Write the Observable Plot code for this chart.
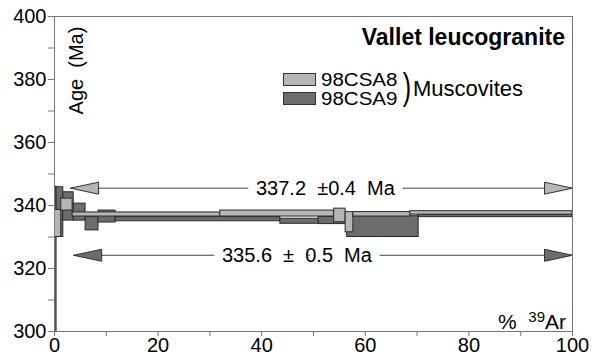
<!DOCTYPE html>
<html><head><meta charset="utf-8">
<script src="https://cdn.jsdelivr.net/npm/d3@7"></script>
<script src="https://cdn.jsdelivr.net/npm/@observablehq/plot@0.6"></script>
<style>
body{margin:0;background:#fff;}
#wrap{position:relative;width:596px;height:356px;font-family:"Liberation Sans",Arial,sans-serif;color:#000;}
.ov{position:absolute;white-space:nowrap;}
.sw{position:absolute;width:31px;height:11px;border:1px solid #333;}
</style></head><body><div id="wrap"></div>
<script>
// 98CSA8 (light grey): cumulative % 39Ar boundaries, step ages and half-errors (Ma)
const csa8Cum = [0, 1.3, 3.5, 32, 54, 56.2, 57.7, 68.7, 100];
const csa8Age = [334.3, 340.3, 337.15, 337.45, 336.85, 334.7, 337.2, 337.65];
const csa8Err = [4.3, 1.9, 0.65, 0.95, 2.15, 3.2, 0.7, 0.55];
// 98CSA9 (dark grey)
const csa9Cum = [0, 0.4, 1.7, 3.7, 6, 8.5, 11.8, 43.6, 51, 56.5, 70.3, 100];
const csa9Age = [310, 337.9, 339.7, 337.9, 334.2, 336.5, 335.65, 335.0, 335.25, 333.3, 336.7];
const csa9Err = [36, 7.9, 4.5, 2.7, 2.1, 1.9, 0.65, 0.8, 1.15, 3.3, 0.4];
// plateau annotations
const plateauLabels = ["337.2\u00a0\u00a0±0.4\u00a0\u00a0Ma", "335.6\u00a0\u00a0±\u00a0\u00a00.5\u00a0\u00a0Ma"];
const plateauArrowAge = [345.5, 324.2];
const plateauArrowFrom = [3.1, 3.7];
const plateauArrowTo = [100, 100];
const plateauLabelX = [52.3, 46.8];
const sampleNames = ["98CSA8", "98CSA9"];
const xTicks = [0, 10, 20, 30, 40, 50, 60, 70, 80, 90, 100];
const yTicks = [300, 310, 320, 330, 340, 350, 360, 370, 380, 390, 400];

const LIGHT = "#b6b6b6", DARK = "#6c6c6c";

function steps(cum, age, err, sample) {
  return age.map((a, i) => ({x1: cum[i], x2: cum[i + 1], y1: a - err[i], y2: a + err[i], sample}));
}
const light = steps(csa8Cum, csa8Age, csa8Err, sampleNames[0]);
const dark = steps(csa9Cum, csa9Age, csa9Err, sampleNames[1]);
const plateaus = plateauLabels.map((label, i) => ({
  label, age: plateauArrowAge[i], from: plateauArrowFrom[i], to: plateauArrowTo[i], lx: plateauLabelX[i],
  fill: i === 0 ? LIGHT : DARK
}));

const headLeft = {draw(ctx) { ctx.moveTo(0, 0); ctx.lineTo(28, -6); ctx.lineTo(28, 6); ctx.closePath(); }};
const headRight = {draw(ctx) { ctx.moveTo(0, 0); ctx.lineTo(-28, -6); ctx.lineTo(-28, 6); ctx.closePath(); }};

const chart = Plot.plot({
  width: 596, height: 356,
  marginLeft: 54, marginRight: 24, marginTop: 16, marginBottom: 25,
  style: {fontFamily: "'Liberation Sans', Arial, sans-serif", fontSize: "20px", background: "white", color: "#000", overflow: "visible"},
  x: {domain: [0, 100], label: null},
  y: {domain: [300, 400], label: null},
  marks: [
    Plot.axisX({ticks: xTicks, tickSize: 5, tickPadding: 1, tickFormat: d => d % 20 === 0 ? String(d) : "", stroke: "#777", fontSize: 20, label: null}),
    Plot.axisY({ticks: yTicks, tickSize: 6, tickPadding: 2, tickFormat: d => d % 20 === 0 ? String(d) : "", stroke: "#777", fontSize: 20, label: null}),
    Plot.rect(dark, {x1: "x1", x2: "x2", y1: "y1", y2: "y2", fill: DARK, stroke: "#2a2a2a", strokeWidth: 1, clip: true}),
    Plot.rect(light, {x1: "x1", x2: "x2", y1: "y1", y2: "y2", fill: LIGHT, stroke: "#2a2a2a", strokeWidth: 1, clip: true}),
    Plot.ruleY(plateaus, {y: "age", x1: "from", x2: "to", stroke: "#444", strokeWidth: 1}),
    Plot.text(plateaus, {x: "lx", y: "age", text: "label", fontSize: 20, fill: "#000", stroke: "white", strokeWidth: 18}),
    Plot.dot(plateaus, {x: "from", y: "age", symbol: headLeft, fill: "fill", stroke: "#333", strokeWidth: 1, r: 5}),
    Plot.dot(plateaus, {x: "to", y: "age", symbol: headRight, fill: "fill", stroke: "#333", strokeWidth: 1, r: 5}),
    Plot.text(["Age\u00a0\u00a0(Ma)"], {frameAnchor: "top-left", dx: 14, dy: 54, rotate: -90, textAnchor: "middle", fontSize: 20, fill: "#000"}),
    Plot.frame({stroke: "#777"})
  ]
});
const wrap = document.getElementById("wrap");
wrap.appendChild(chart);

function ov(html, css) {
  const d = document.createElement("div");
  d.className = "ov";
  d.innerHTML = html;
  Object.assign(d.style, css);
  wrap.appendChild(d);
  return d;
}
ov("Vallet leucogranite", {right: "31px", top: "23px", fontSize: "23px", fontWeight: "bold", lineHeight: "28px"});
const s1 = document.createElement("div"); s1.className = "sw";
Object.assign(s1.style, {left: "283px", top: "73px", background: LIGHT}); wrap.appendChild(s1);
const s2 = document.createElement("div"); s2.className = "sw";
Object.assign(s2.style, {left: "283px", top: "92px", background: DARK}); wrap.appendChild(s2);
ov(sampleNames[0], {left: "321px", top: "71px", fontSize: "18px", lineHeight: "18px", transform: "scaleX(1.14)", transformOrigin: "left center"});
ov(sampleNames[1], {left: "321px", top: "90px", fontSize: "18px", lineHeight: "18px", transform: "scaleX(1.14)", transformOrigin: "left center"});
ov(")", {left: "401px", top: "67px", fontSize: "36px", lineHeight: "40px", fontWeight: "300", transform: "scaleX(0.7)"});
ov("Muscovites", {left: "413px", top: "78px", fontSize: "22px", lineHeight: "22px"});
ov("%&nbsp;&nbsp;<sup style='font-size:15px;vertical-align:7px'>39</sup>Ar", {right: "30px", top: "305px", fontSize: "21px", lineHeight: "24px"});
</script></body></html>
